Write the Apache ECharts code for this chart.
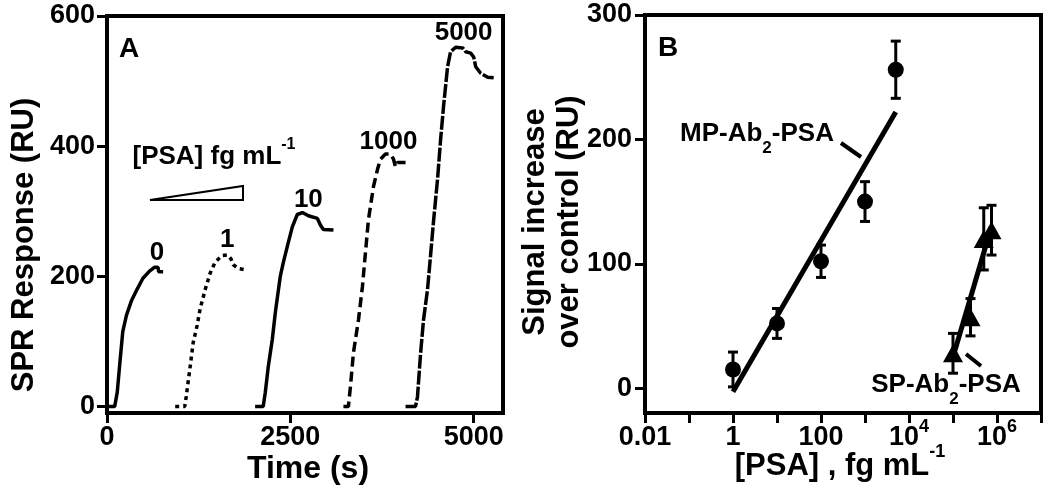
<!DOCTYPE html>
<html><head><meta charset="utf-8">
<script src="https://cdn.jsdelivr.net/npm/echarts@6/dist/echarts.min.js"></script>
<style>html,body{margin:0;padding:0;background:#fff}#c{width:1050px;height:494px}</style>
</head><body><div id="c"></div>
<script>
// ---------- Panel A: SPR sensorgrams (time s, response RU) ----------
const curve0 = [[0,0],[105,0],[120,3],[140,22],[178,70],[215,115],[265,140],[335,163],[410,180],[490,197],[580,208],[650,214],[695,214],[705,207],[765,207]];
const curve1 = [[930,0],[1060,0],[1080,15],[1135,62],[1175,98],[1230,125],[1270,150],[1340,180],[1407,205],[1475,222],[1570,232],[1640,233],[1690,227],[1720,218],[1790,212],[1885,210]];
const curve2 = [[2020,0],[2130,0],[2158,21],[2200,62],[2254,103],[2295,144],[2363,200],[2404,221],[2459,246],[2527,276],[2595,295],[2664,298],[2746,293],[2869,289],[2910,279],[2951,272],[3088,271]];
const curve3 = [[3224,0],[3292,0],[3320,31],[3361,83],[3429,133],[3483,184],[3524,236],[3565,287],[3634,338],[3688,364],[3729,380],[3797,388],[3866,388],[3907,380],[3935,368],[3961,375],[4071,375]];
const curve4 = [[4071,0],[4207,0],[4234,15],[4275,80],[4316,133],[4371,180],[4412,232],[4453,285],[4508,350],[4549,410],[4590,462],[4644,522],[4685,545],[4754,552],[4850,551],[4891,545],[4959,543],[5000,537],[5028,522],[5096,512],[5191,506],[5273,505]];
const curveLabels = ['0','1','10','1000','5000'];
const curveLabelAnchors = [[683,236],[1639,256],[2746,318],[3838,407],[4863,574]];
const yTicksA = [0,200,400,600];
const xTicksA = [0,2500,5000];

// ---------- Panel B: signal vs [PSA] ----------
const mpConc = [1,10,100,1000,5000];
const mpSignal = [15,52,102,150,256];
const mpErr = [14,12,13,16,23];
const spConc = [1e5,2.5e5,5e5,7.5e5];
const spSignal = [28,57,120,127];
const spErr = [16,15,25,20];
const mpFit = [[1,-3],[5000,222]];
const spFit = [[1e5,25],[7.5e5,130]];
const yTicksB = [0,100,200,300];
const xTickExpB = [-2,0,2,4,6];
const xTickLabelsB = ['0.01','1','100','10{p|4}','10{p|6}'];

const FF = '"Liberation Sans", Arial, Helvetica, sans-serif';
const BLK = '#000';

function errBar(params, api) {
  const x = api.value(0), y = api.value(1), e = api.value(2);
  const t = api.coord([x, y + e]), b = api.coord([x, y - e]);
  const hw = 5, st = {stroke: BLK, lineWidth: 3};
  return {type: 'group', children: [
    {type: 'line', shape: {x1: t[0], y1: t[1], x2: b[0], y2: b[1]}, style: st},
    {type: 'line', shape: {x1: t[0]-hw, y1: t[1], x2: t[0]+hw, y2: t[1]}, style: st},
    {type: 'line', shape: {x1: b[0]-hw, y1: b[1], x2: b[0]+hw, y2: b[1]}, style: st}
  ]};
}

const tickLbl = {color: BLK, fontFamily: FF, fontWeight: 'bold', fontSize: 27};
const axLine = {show: true, onZero: false, lineStyle: {color: BLK, width: 4}};
const axTick = {show: true, length: 10, inside: false, lineStyle: {color: BLK, width: 3}};

const chart = echarts.init(document.getElementById('c'));
const lineSeries = (data, type) => ({
  type: 'line', xAxisIndex: 0, yAxisIndex: 0, data, showSymbol: false, symbol: 'none',
  lineStyle: {color: BLK, width: 3.5, type, cap: 'butt', opacity: 1}, animation: false, silent: true
});

chart.setOption({
  animation: false,
  backgroundColor: '#fff',
  grid: [
    {left: 107, top: 16, width: 396, height: 397, show: true, borderColor: BLK, borderWidth: 4, outerBoundsMode: 'none', containLabel: false},
    {left: 645, top: 15, width: 396, height: 398, show: true, borderColor: BLK, borderWidth: 4, outerBoundsMode: 'none', containLabel: false}
  ],
  xAxis: [
    {type: 'value', gridIndex: 0, min: 0, max: 5400, splitLine: {show: false},
     axisLine: axLine, axisTick: Object.assign({customValues: xTicksA}, axTick),
     axisLabel: Object.assign({customValues: xTicksA, margin: 11, formatter: v => String(v)}, tickLbl)},
    {type: 'log', gridIndex: 1, min: 0.01, max: 1e7, logBase: 10, splitLine: {show: false},
     axisLine: axLine, axisTick: axTick,
     axisLabel: Object.assign({margin: 5, interval: 0, lineHeight: 40,
       formatter: v => { const e = Math.round(Math.log10(v)); const i = xTickExpB.indexOf(e); return i < 0 ? '' : xTickLabelsB[i]; },
       rich: {p: {fontSize: 18, fontWeight: 'bold', fontFamily: FF, color: BLK, verticalAlign: 'top'}}}, tickLbl)}
  ],
  yAxis: [
    {type: 'value', gridIndex: 0, min: -10, max: 600, splitLine: {show: false},
     axisLine: axLine, axisTick: Object.assign({customValues: yTicksA}, axTick),
     axisLabel: Object.assign({customValues: yTicksA, margin: 12, formatter: v => String(v)}, tickLbl)},
    {type: 'value', gridIndex: 1, min: -20, max: 300, splitLine: {show: false},
     axisLine: axLine, axisTick: Object.assign({customValues: yTicksB}, axTick),
     axisLabel: Object.assign({customValues: yTicksB, margin: 13, formatter: v => String(v)}, tickLbl)}
  ],
  series: [
    lineSeries(curve0, 'solid'),
    lineSeries(curve1, [4, 4]),
    lineSeries(curve2, 'solid'),
    lineSeries(curve3, [10, 5]),
    lineSeries(curve4, [14, 2]),
    {type: 'scatter', xAxisIndex: 0, yAxisIndex: 0, symbolSize: 0, silent: true, itemStyle: {opacity: 1},
     data: curveLabelAnchors.map((p, i) => ({value: p, name: curveLabels[i]})),
     label: {show: true, position: 'inside', formatter: p => p.name, color: BLK, opacity: 1, fontFamily: FF, fontWeight: 'bold', fontSize: 26}},
    {type: 'line', xAxisIndex: 1, yAxisIndex: 1, data: mpFit, showSymbol: false, symbol: 'none', lineStyle: {color: BLK, width: 5}},
    {type: 'line', xAxisIndex: 1, yAxisIndex: 1, data: spFit, showSymbol: false, symbol: 'none', lineStyle: {color: BLK, width: 5}},
    {type: 'custom', xAxisIndex: 1, yAxisIndex: 1, renderItem: errBar, encode: {x: 0, y: 1},
     data: mpConc.map((c, i) => [c, mpSignal[i], mpErr[i]])},
    {type: 'custom', xAxisIndex: 1, yAxisIndex: 1, renderItem: errBar, encode: {x: 0, y: 1},
     data: spConc.map((c, i) => [c, spSignal[i], spErr[i]])},
    {type: 'scatter', xAxisIndex: 1, yAxisIndex: 1, symbol: 'circle', symbolSize: 16, itemStyle: {color: BLK, opacity: 1},
     data: mpConc.map((c, i) => [c, mpSignal[i]]), z: 5},
    {type: 'scatter', xAxisIndex: 1, yAxisIndex: 1, symbol: 'triangle', symbolSize: [20, 18], itemStyle: {color: BLK, opacity: 1},
     data: spConc.map((c, i) => [c, spSignal[i]]), z: 5}
  ],
  graphic: [
    {type: 'text', x: 129, y: 49, style: {text: 'A', font: 'bold 28px ' + FF, fill: BLK, textAlign: 'center', textVerticalAlign: 'middle'}},
    {type: 'text', x: 668, y: 48, style: {text: 'B', font: 'bold 28px ' + FF, fill: BLK, textAlign: 'center', textVerticalAlign: 'middle'}},
    {type: 'text', x: 24, y: 245, rotation: Math.PI / 2, style: {text: 'SPR Response (RU)', font: 'bold 31px ' + FF, fill: BLK, textAlign: 'center', textVerticalAlign: 'middle'}},
    {type: 'text', x: 308, y: 469, style: {text: 'Time (s)', font: 'bold 32px ' + FF, fill: BLK, textAlign: 'center', textVerticalAlign: 'middle'}},
    {type: 'text', x: 535, y: 222, rotation: Math.PI / 2, style: {text: 'Signal increase', font: 'bold 31px ' + FF, fill: BLK, textAlign: 'center', textVerticalAlign: 'middle'}},
    {type: 'text', x: 569, y: 222, rotation: Math.PI / 2, style: {text: 'over control (RU)', font: 'bold 31px ' + FF, fill: BLK, textAlign: 'center', textVerticalAlign: 'middle'}},
    {type: 'text', x: 840, y: 466, style: {text: '{b|[PSA] , fg mL}{p|-1}', textAlign: 'center', textVerticalAlign: 'middle',
      rich: {b: {font: 'bold 31px ' + FF, fill: BLK, color: BLK, lineHeight: 46}, p: {font: 'bold 18px ' + FF, color: BLK, verticalAlign: 'top'}}}},
    {type: 'text', x: 214, y: 157, style: {text: '{b|[PSA] fg mL}{p|-1}', textAlign: 'center', textVerticalAlign: 'middle',
      rich: {b: {font: 'bold 26px ' + FF, color: BLK, lineHeight: 40}, p: {font: 'bold 16px ' + FF, color: BLK, verticalAlign: 'top'}}}},
    {type: 'polygon', shape: {points: [[150, 200], [243, 186], [243, 200]]}, style: {fill: '#fff', stroke: BLK, lineWidth: 2}},
    {type: 'text', x: 757, y: 134, style: {text: '{b|MP-Ab}{s|2}{b|-PSA}', textAlign: 'center', textVerticalAlign: 'middle',
      rich: {b: {font: 'bold 26px ' + FF, color: BLK, lineHeight: 26}, s: {font: 'bold 17px ' + FF, color: BLK, lineHeight: 46, verticalAlign: 'bottom'}}}},
    {type: 'line', shape: {x1: 841, y1: 143, x2: 861, y2: 157}, style: {stroke: BLK, lineWidth: 4}},
    {type: 'text', x: 946, y: 385, style: {text: '{b|SP-Ab}{s|2}{b|-PSA}', textAlign: 'center', textVerticalAlign: 'middle',
      rich: {b: {font: 'bold 26px ' + FF, color: BLK, lineHeight: 26}, s: {font: 'bold 17px ' + FF, color: BLK, lineHeight: 46, verticalAlign: 'bottom'}}}},
    {type: 'line', shape: {x1: 966, y1: 354, x2: 981, y2: 366}, style: {stroke: BLK, lineWidth: 4}}
  ]
});
</script></body></html>
